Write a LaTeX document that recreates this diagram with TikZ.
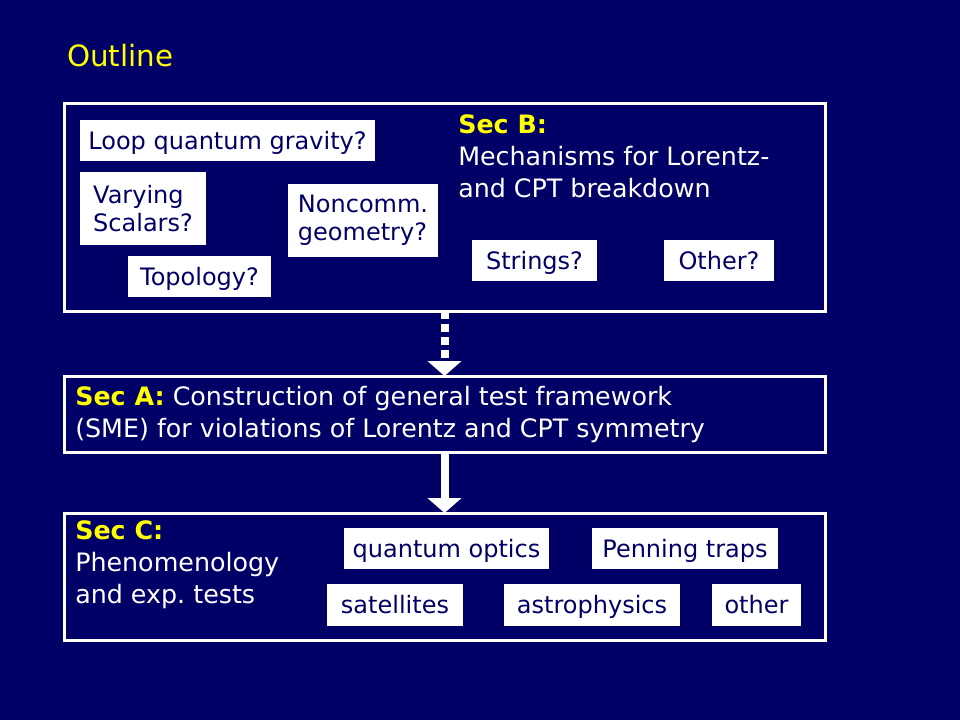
\documentclass[tikz,border=0pt]{standalone}
\usepackage{fontspec}
\setmainfont{DejaVu Sans}
\usetikzlibrary{arrows.meta}
\definecolor{slidebg}{RGB}{0,0,102}
\definecolor{slideyellow}{RGB}{255,255,0}
\begin{document}
\begin{tikzpicture}[x=0.75pt,y=-0.75pt,
    frame/.style={draw=white, line width=2.25pt, inner sep=0pt, outer sep=0pt},
    tag/.style={fill=white, text=slidebg, inner sep=0pt, align=left, font=\fontsize{18}{21}\selectfont},
    onetag/.style={tag, text height=13pt, text depth=0pt},
    tagsize/.style 2 args={minimum width=#1*0.75pt, minimum height=#2*0.75pt},
    sectext/.style={text=white, anchor=base west, inner sep=0pt, align=left, font=\fontsize{19}{24}\selectfont},
    bigarrow/.style={draw=white, line width=6pt, -{Triangle[width=25pt,length=11.25pt]}}]
  \fill[slidebg] (0,0) rectangle (960,720);
  \useasboundingbox (0,0) rectangle (960,720);
  \node[anchor=base west, inner sep=0pt, text=slideyellow, font=\fontsize{22}{26}\selectfont] (title) at (67,67) {Outline};
  % the three section frames
  \node[frame, tagsize={761}{207}] (secB) at (444.5,207.5) {};
  \node[frame, tagsize={761}{76}] (secA) at (444.5,414) {};
  \node[frame, tagsize={761}{127}] (secC) at (444.5,576.5) {};
  % Sec B (placed by the baseline of its last line)
  \node[sectext] (secBtext) at (458,198) {\textcolor{slideyellow}{\bfseries Sec B:}\\Mechanisms for Lorentz-\\and CPT breakdown};
  \node[onetag, tagsize={295}{41}] (loop) at (227.5,141) {Loop quantum gravity?};
  \node[tag, tagsize={126}{73}] (scalars) at (143,208.5) {Varying\\Scalars?};
  \node[tag, tagsize={150}{73}] (noncomm) at (363,220.5) {Noncomm.\\geometry?};
  \node[onetag, tagsize={143}{41}] (topology) at (199.5,276.5) {Topology?};
  \node[onetag, tagsize={125}{41}] (strings) at (534.5,261) {Strings?};
  \node[onetag, tagsize={110}{41}] (otherB) at (719,261) {Other?};
  % Sec A
  \node[sectext] (secAtext) at (75,437) {\textcolor{slideyellow}{\bfseries Sec A:}\ Construction of general test framework\\(SME) for violations of Lorentz and CPT symmetry};
  % Sec C
  \node[sectext] (secCtext) at (75,603) {\textcolor{slideyellow}{\bfseries Sec C:}\\Phenomenology\\and exp.\ tests};
  \node[onetag, tagsize={205}{41}] (optics) at (446.5,548.5) {quantum optics};
  \node[onetag, tagsize={186}{41}] (penning) at (685,548.5) {Penning traps};
  \node[onetag, tagsize={136}{42}] (satellites) at (395,605) {satellites};
  \node[onetag, tagsize={176}{42}] (astro) at (592,605) {astrophysics};
  \node[onetag, tagsize={89}{42}] (otherC) at (756.5,605) {other};
  % arrows between the sections
  \draw[bigarrow, dash pattern=on 6pt off 3.75pt] (secB.south) -- (secA.north);
  \draw[bigarrow] (secA.south) -- (secC.north);
\end{tikzpicture}
\end{document}
